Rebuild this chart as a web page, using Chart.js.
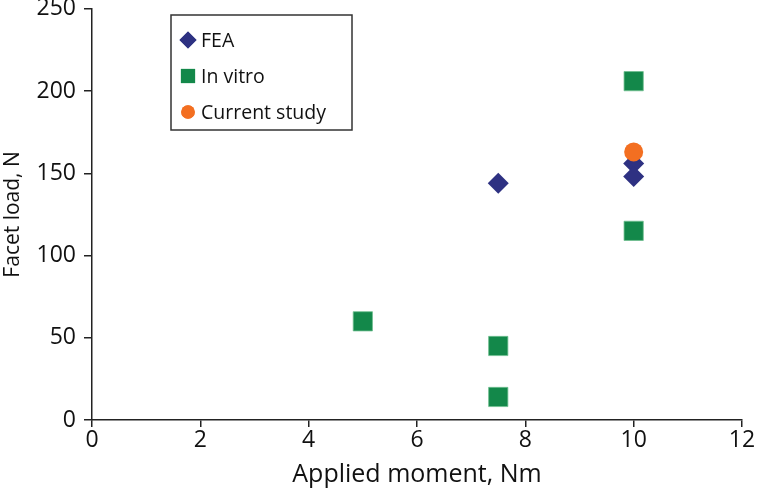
<!DOCTYPE html>
<html>
<head>
<meta charset="utf-8">
<script src="https://cdn.jsdelivr.net/npm/chart.js@4"></script>
<style>
  html,body{margin:0;padding:0;background:#fff;overflow:hidden;}
  #wrap{width:757px;height:497px;overflow:hidden;}
  #chart{display:block;margin-top:-13px;}
</style>
</head>
<body>
<div id="wrap"><canvas id="chart" width="757" height="510"></canvas></div>
<script>
// --- data ---
const feaX = [7.5, 10, 10];
const feaY = [144, 156, 148];
const vitroX = [5, 7.5, 7.5, 10, 10];
const vitroY = [60, 45, 14, 206, 115];
const currentX = [10];
const currentY = [163];
const xTicks = [0, 2, 4, 6, 8, 10, 12];
const yTicks = [0, 50, 100, 150, 200, 250];

const FONT = "'Open Sans', 'Noto Sans', sans-serif";
const SHIFT = 13; // canvas is pulled up so the top label is cut like the original
const toPts = (xs, ys) => xs.map((x, i) => ({x, y: ys[i]}));

// legend drawn in a box inside the plot, like the original
const boxLegend = {
  id: 'boxLegend',
  afterDraw(chart) {
    const ctx = chart.ctx;
    const x0 = 171, y0 = 15 + SHIFT, w = 181, h = 115;
    ctx.save();
    ctx.fillStyle = '#fff';
    ctx.fillRect(x0, y0, w, h);
    ctx.strokeStyle = '#333';
    ctx.lineWidth = 1.5;
    ctx.strokeRect(x0, y0, w, h);
    ctx.font = '19.5px ' + FONT;
    ctx.textBaseline = 'middle';
    const rows = [40, 76, 112];
    chart.data.datasets.forEach((ds, i) => {
      const cy = rows[i] + SHIFT;
      ctx.fillStyle = ds.backgroundColor;
      Chart.helpers.drawPoint(ctx, {pointStyle: ds.pointStyle, radius: ds.legendRadius, rotation: 0, borderWidth: 0}, 188, cy);
      ctx.fill();
      ctx.fillStyle = '#111';
      ctx.fillText(ds.label, 201, cy + 1);
    });
    ctx.restore();
  }
};

new Chart(document.getElementById('chart'), {
  type: 'scatter',
  data: {
    datasets: [
      {label: 'FEA', data: toPts(feaX, feaY), pointStyle: 'rectRot', pointRadius: 10.5, legendRadius: 8.5,
       backgroundColor: '#2e3182', borderColor: '#2e3182', borderWidth: 0, order: 2},
      {label: 'In vitro', data: toPts(vitroX, vitroY), pointStyle: 'rect', pointRadius: 13.6, legendRadius: 10,
       backgroundColor: '#13884a', borderColor: '#6fbf8f', borderWidth: 0.8, order: 3},
      {label: 'Current study', data: toPts(currentX, currentY), pointStyle: 'circle', pointRadius: 9.5, legendRadius: 6.8,
       backgroundColor: '#f36f21', borderColor: '#f36f21', borderWidth: 0, order: 1}
    ]
  },
  options: {
    responsive: false,
    animation: false,
    layout: {padding: {top: 7, right: 15, left: 0, bottom: 0}},
    plugins: {legend: {display: false}, tooltip: {enabled: false}},
    scales: {
      x: {
        type: 'linear', min: 0, max: 12,
        afterBuildTicks: s => { s.ticks = xTicks.map(v => ({value: v})); },
        afterFit: s => { s.height = 77; },
        border: {display: true, color: '#222', width: 1.5},
        grid: {display: true, drawOnChartArea: false, drawTicks: true, tickLength: 7, color: '#222', lineWidth: 1.5},
        ticks: {color: '#111', font: {family: FONT, size: 23}, padding: 0, maxRotation: 0},
        title: {display: true, text: 'Applied moment, Nm', color: '#111', font: {family: FONT, size: 25}, padding: {top: 0, bottom: 7}}
      },
      y: {
        type: 'linear', min: 0, max: 250,
        afterBuildTicks: s => { s.ticks = yTicks.map(v => ({value: v})); },
        afterFit: s => { s.width = 92; },
        border: {display: true, color: '#222', width: 1.5},
        grid: {display: true, drawOnChartArea: false, drawTicks: true, tickLength: 8, color: '#222', lineWidth: 1.5},
        ticks: {color: '#111', font: {family: FONT, size: 23}, padding: 8},
        title: {display: true, text: 'Facet load, N', color: '#111', font: {family: FONT, size: 21}, padding: {top: 0, bottom: 0}}
      }
    }
  },
  plugins: [boxLegend]
});
</script>
</body>
</html>
